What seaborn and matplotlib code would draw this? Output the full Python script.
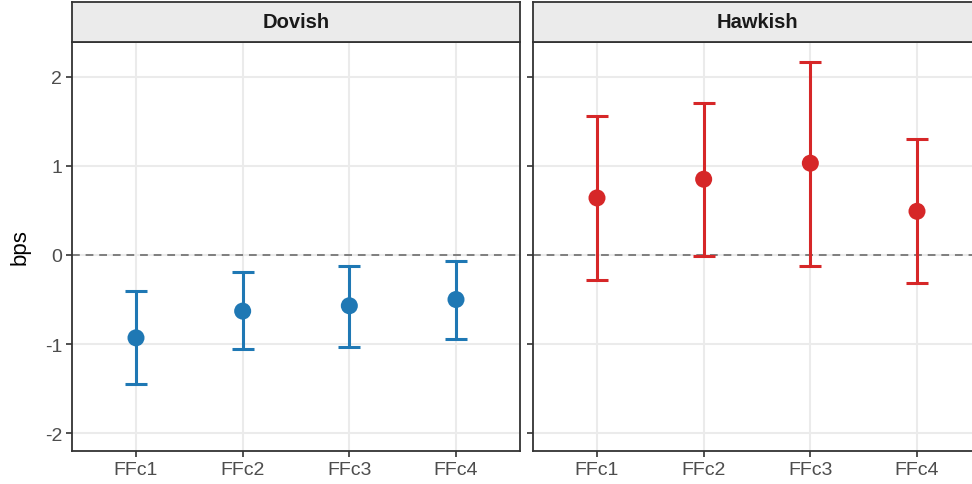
import matplotlib
matplotlib.use("Agg")
import matplotlib.pyplot as plt
import pandas as pd
import seaborn as sns

# ──────────────────────────────────────────────────────────────
# Data
# ──────────────────────────────────────────────────────────────

contracts = ["FFc1", "FFc2", "FFc3", "FFc4"]
panels = ["Dovish", "Hawkish"]
panel_colors = {"Dovish": "#1F78B4", "Hawkish": "#D62728"}

dovish_est = [-0.93, -0.63, -0.57, -0.50]
dovish_lo = [-1.45, -1.06, -1.03, -0.94]
dovish_hi = [-0.41, -0.19, -0.12, -0.07]

hawkish_est = [0.64, 0.85, 1.03, 0.49]
hawkish_lo = [-0.28, -0.01, -0.12, -0.32]
hawkish_hi = [1.56, 1.70, 2.17, 1.30]

y_ticks = [-2, -1, 0, 1, 2]

df = pd.concat([
    pd.DataFrame({"contract": contracts, "est": dovish_est, "lo": dovish_lo,
                  "hi": dovish_hi, "shock": "Dovish"}),
    pd.DataFrame({"contract": contracts, "est": hawkish_est, "lo": hawkish_lo,
                  "hi": hawkish_hi, "shock": "Hawkish"}),
], ignore_index=True)

# ──────────────────────────────────────────────────────────────
# Style
# ──────────────────────────────────────────────────────────────

sns.set_style("white")
plt.rcParams["font.family"] = ["Liberation Sans", "DejaVu Sans"]

W, H = 972, 485
fig = plt.figure(figsize=(W / 100, H / 100), dpi=100)

panel_x = [72, 533]
panel_w = 448
panel_top, panel_bottom = 43, 452
strip_top = 3

for i, (px, name) in enumerate(zip(panel_x, panels)):
    ax = fig.add_axes([px / W, (H - panel_bottom) / H, panel_w / W,
                       (panel_bottom - panel_top) / H])
    sub = df[df["shock"] == name]
    color = panel_colors[name]

    ax.axhline(0, color="#7F7F7F", lw=1.4, ls=(0, (4, 3)), zorder=1)
    ax.errorbar(range(len(sub)), sub["est"],
                yerr=[sub["est"] - sub["lo"], sub["hi"] - sub["est"]],
                fmt="none", ecolor=color, elinewidth=2.2, capsize=8,
                capthick=2.2, zorder=2)
    sns.scatterplot(data=sub, x="contract", y="est", ax=ax, color=color,
                    s=150, edgecolor="none", zorder=3, legend=False)

    ax.set_xlim(-0.6, 3.6)
    ax.set_ylim(-2.2, 2.39)
    ax.set_yticks(y_ticks)
    ax.set_yticklabels([str(t) for t in y_ticks] if i == 0 else [])
    ax.set_xlabel("")
    ax.set_ylabel("bps" if i == 0 else "", fontsize=16, color="black",
                  labelpad=10)

    ax.grid(True, color="#EBEBEB", lw=1.5)
    ax.set_axisbelow(True)
    for sp in ax.spines.values():
        sp.set_visible(True)
        sp.set_color("#333333")
        sp.set_linewidth(1.3)
    ax.tick_params(axis="both", which="both", length=4, width=1.2,
                   color="#333333", labelcolor="#4D4D4D", labelsize=14,
                   left=True, bottom=True, pad=3)

    # facet strip
    sax = fig.add_axes([px / W, (H - panel_top) / H, panel_w / W,
                        (panel_top - strip_top) / H])
    sax.set_facecolor("#EBEBEB")
    sax.set_xticks([])
    sax.set_yticks([])
    for sp in sax.spines.values():
        sp.set_visible(True)
        sp.set_color("#333333")
        sp.set_linewidth(1.3)
    sax.text(0.5, 0.5, name, ha="center", va="center", fontsize=14.5,
             fontweight="bold", color="#1A1A1A", transform=sax.transAxes)

fig.savefig("out.png", dpi=100, facecolor="white")
